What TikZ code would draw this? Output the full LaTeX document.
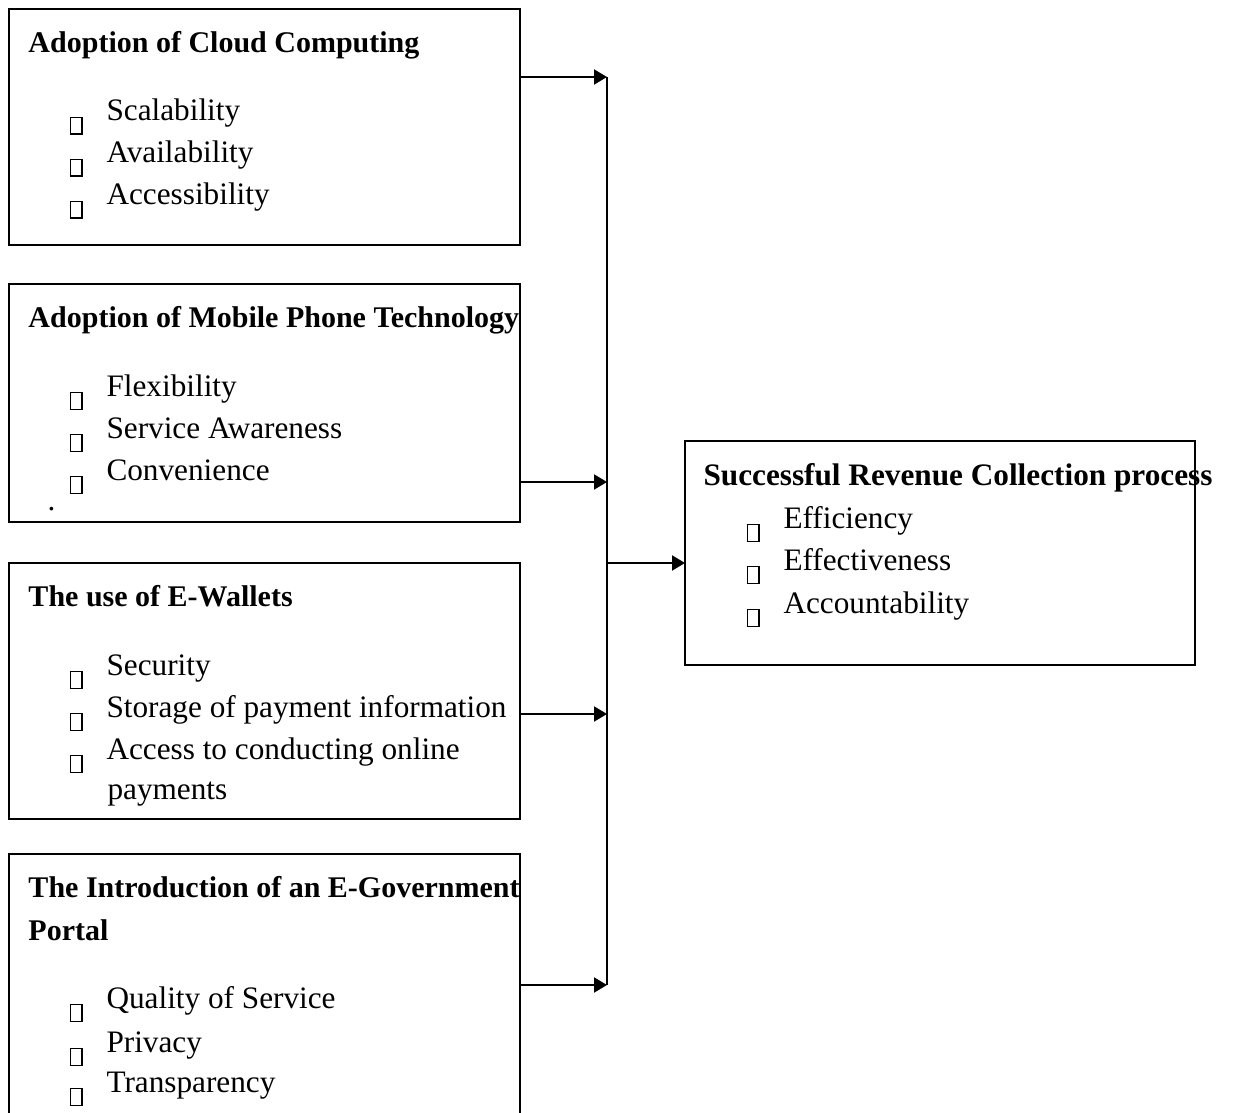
\documentclass[tikz,border=0pt]{standalone}
\usepackage{fontspec}
\setmainfont{Liberation Serif}
\usetikzlibrary{arrows.meta, positioning, calc}

\newcommand{\sqbox}{\raisebox{-5pt}{\setlength{\fboxsep}{0pt}\setlength{\fboxrule}{0.6pt}\fbox{\rule{0pt}{6.2pt}\hspace{4pt}}}}
\newcommand{\bitem}[1]{\sqbox\hspace{9.6pt}#1}

\begin{document}
\begin{tikzpicture}[x=0.4pt, y=-0.4pt,
  box/.style={draw, line width=0.8pt, inner sep=0pt, outer sep=0pt, minimum width=204.4pt},
  hd/.style={anchor=base west, inner sep=0pt, font=\fontsize{12}{15}\selectfont\bfseries},
  itm/.style={anchor=base west, inner sep=0pt, font=\fontsize{12.5}{15}\selectfont},
  arr/.style={line width=0.8pt, -{Triangle[length=5.2pt,width=6pt]}}]

        \useasboundingbox (0,0) rectangle (1238,1112);

        % Boxes on the left
        \node[box, minimum height=94.4pt] (cloud) at (264.5,127) {};
        \node[box, minimum height=95.2pt] (mobile) at (264.5,403) {};
        \node[box, minimum height=102.4pt] (wallet) at (264.5,691) {};
        \node[box, minimum height=110.4pt] (portal) at (264.5,992) {};

        % Box on the right
        \node[box, minimum width=204pt, minimum height=89.6pt] (revenue) at (940,553) {};

        % Adoption of Cloud Computing
        \node[hd] (cloudhd) at (28,53) {Adoption of Cloud Computing};
        \node[itm] (cloud1) at (69,121) {\bitem{Scalability}};
        \node[itm] (cloud2) at (69,163) {\bitem{Availability}};
        \node[itm] (cloud3) at (69,205) {\bitem{Accessibility}};

        % Adoption of Mobile Phone Technology
        \node[hd] (mobilehd) at (28,327) {Adoption of Mobile Phone Technology};
        \node[itm] (mobile1) at (69,396) {\bitem{Flexibility}};
        \node[itm] (mobile2) at (69,438) {\bitem{Service Awareness}};
        \node[itm] (mobile3) at (69,480) {\bitem{Convenience}};
        \node[itm] (mobiledot) at (47,510) {.};

        % The use of E-Wallets
        \node[hd] (wallethd) at (28,606) {The use of E-Wallets};
        \node[itm] (wallet1) at (69,675) {\bitem{Security}};
        \node[itm] (wallet2) at (69,717) {\bitem{Storage of payment information}};
        \node[itm] (wallet3) at (69,759) {\bitem{Access to conducting online}};
        \node[itm] (wallet4) at (107,799) {payments};

        % The Introduction of an E-Government Portal
        \node[hd] (portalhd) at (28,897) {The Introduction of an E-Government};
        \node[hd] (portalhd2) at (28,940) {Portal};
        \node[itm] (portal1) at (69,1008) {\bitem{Quality of Service}};
        \node[itm] (portal2) at (69,1052) {\bitem{Privacy}};
        \node[itm] (portal3) at (69,1092) {\bitem{Transparency}};

        % Successful Revenue Collection process
        \node[hd, font=\fontsize{12.5}{15}\selectfont\bfseries] (revenuehd) at (703,485) {Successful Revenue Collection process};
        \node[itm] (revenue1) at (746,528) {\bitem{Efficiency}};
        \node[itm] (revenue2) at (746,570) {\bitem{Effectiveness}};
        \node[itm] (revenue3) at (746,613) {\bitem{Accountability}};

        % Collecting line
        \coordinate (bus1) at (607,77);
        \coordinate (bus2) at (607,482);
        \coordinate (bus3) at (607,714);
        \coordinate (bus4) at (607,985);
        \coordinate (busmid) at (607,563);
        \draw[line width=0.6pt] (bus1) -- (bus4);

        % Arrows
        \draw[arr] (cloud.east |- bus1) -- (bus1);
        \draw[arr] (mobile.east |- bus2) -- (bus2);
        \draw[arr] (wallet.east |- bus3) -- (bus3);
        \draw[arr] (portal.east |- bus4) -- (bus4);
        \draw[arr] (busmid) -- (busmid -| revenue.west);

\end{tikzpicture}
\end{document}
